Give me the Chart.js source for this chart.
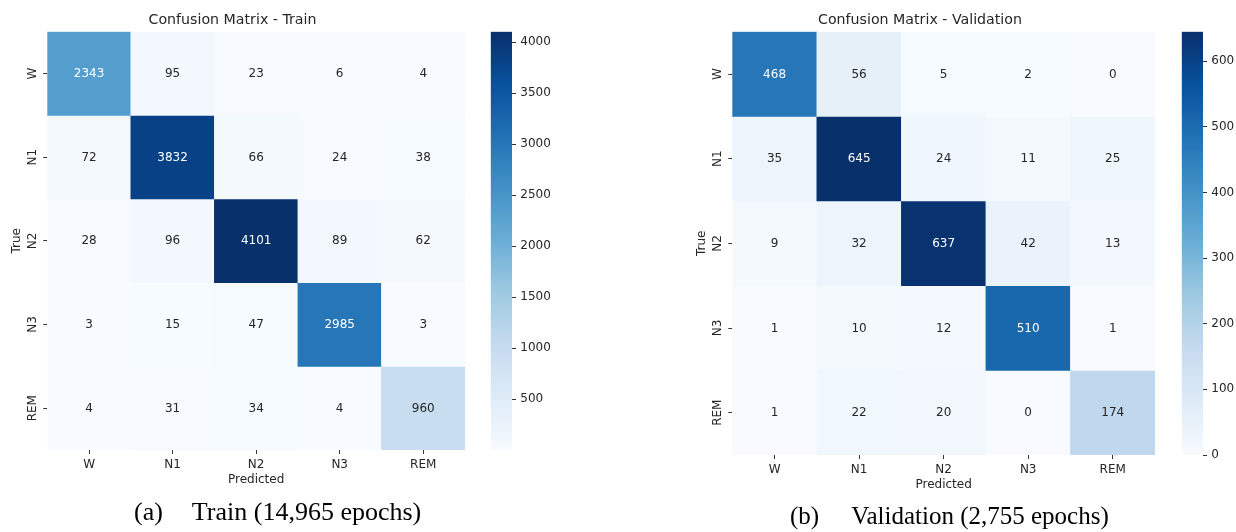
<!DOCTYPE html>
<html>
<head>
<meta charset="utf-8">
<title>Confusion matrices</title>
<script src="https://cdn.jsdelivr.net/npm/chart.js@4.4.1/dist/chart.umd.min.js"></script>
<style>
  html, body { margin: 0; padding: 0; background: #fff; }
  #page { position: relative; width: 1236px; height: 532px; overflow: hidden; background: #fff; }
  .box { position: absolute; }
  .cap { position: absolute; font-family: "Liberation Serif", "Times New Roman", serif;
         color: #000; white-space: pre; line-height: 1; }
</style>
</head>
<body>
<div id="page">
  <div class="box" style="left:0;top:0;width:475px;height:500px"><canvas id="cmTrain"></canvas></div>
  <div class="box" style="left:480px;top:0;width:80px;height:500px"><canvas id="cbTrain"></canvas></div>
  <div class="box" style="left:685px;top:0;width:480px;height:505px"><canvas id="cmVal"></canvas></div>
  <div class="box" style="left:1171px;top:0;width:65px;height:505px"><canvas id="cbVal"></canvas></div>
  <div class="cap" style="left:134px;top:499px;font-size:26px">(a)<span style="margin-left:29px">Train (14,965 epochs)</span></div>
  <div class="cap" style="left:790px;top:503px;font-size:25px">(b)<span style="margin-left:32px">Validation (2,755 epochs)</span></div>
</div>
<script>
// Sleep stage classes (rows = true stage, columns = predicted stage)
const stages = ['W', 'N1', 'N2', 'N3', 'REM'];

// Training set counts, one array per true stage
const trainW   = [2343,   95,   23,    6,   4];
const trainN1  = [  72, 3832,   66,   24,  38];
const trainN2  = [  28,   96, 4101,   89,  62];
const trainN3  = [   3,   15,   47, 2985,   3];
const trainREM = [   4,   31,   34,    4, 960];

// Validation set counts, one array per true stage
const valW   = [468,  56,   5,   2,   0];
const valN1  = [ 35, 645,  24,  11,  25];
const valN2  = [  9,  32, 637,  42,  13];
const valN3  = [  1,  10,  12, 510,   1];
const valREM = [  1,  22,  20,   0, 174];

// Colour bar tick labels
const trainBarTicks = [500, 1000, 1500, 2000, 2500, 3000, 3500, 4000];
const valBarTicks   = [0, 100, 200, 300, 400, 500, 600];

const trainRows = [trainW, trainN1, trainN2, trainN3, trainREM];
const valRows   = [valW, valN1, valN2, valN3, valREM];

const FONT = '"DejaVu Sans", Verdana, sans-serif';
const INK = '#262626';
Chart.defaults.font.family = FONT;
Chart.defaults.color = INK;

// "Blues" sequential palette stops
const blues = ['#f7fbff', '#deebf7', '#c6dbef', '#9ecae1', '#6baed6',
               '#4292c6', '#2171b5', '#08519c', '#08306b'];

function hexRgb(h) {
  return [parseInt(h.slice(1, 3), 16), parseInt(h.slice(3, 5), 16), parseInt(h.slice(5, 7), 16)];
}
const bluesRgb = blues.map(hexRgb);

function bluesAt(t) {
  t = Math.max(0, Math.min(1, t));
  const pos = t * (bluesRgb.length - 1);
  const i = Math.min(Math.floor(pos), bluesRgb.length - 2);
  const f = pos - i;
  return bluesRgb[i].map((c, k) => c + (bluesRgb[i + 1][k] - c) * f);
}

function rgbStr(c) {
  return 'rgb(' + c.map(v => Math.round(v)).join(',') + ')';
}

// Dark text on light cells, white text on dark cells
function luminance(c) {
  const lin = c.map(v => {
    v /= 255;
    return v <= 0.03928 ? v / 12.92 : Math.pow((v + 0.055) / 1.055, 2.4);
  });
  return 0.2126 * lin[0] + 0.7152 * lin[1] + 0.0722 * lin[2];
}

// Writes each count at the centre of its cell
const cellLabels = {
  id: 'cellLabels',
  afterDatasetsDraw(chart, args, opts) {
    const ctx = chart.ctx;
    ctx.save();
    ctx.font = opts.size + 'px ' + FONT;
    ctx.textAlign = 'center';
    ctx.textBaseline = 'middle';
    chart.data.datasets.forEach((ds, di) => {
      const meta = chart.getDatasetMeta(di);
      meta.data.forEach((bar, i) => {
        const rgb = ds.cellRgb[i];
        ctx.fillStyle = luminance(rgb) > 0.408 ? INK : '#ffffff';
        ctx.fillText(String(ds.counts[i]), bar.x, (bar.y + bar.base) / 2 + 0.5);
      });
    });
    ctx.restore();
  }
};

const tickFont = { size: 12 };

function heatmap(canvasId, title, rows, vmin, vmax) {
  const n = stages.length;
  const datasets = rows.map((row, r) => {
    const rgbs = row.map(v => bluesAt((v - vmin) / (vmax - vmin)));
    return {
      label: stages[r],
      data: row.map(() => [n - 1 - r, n - r]),
      counts: row,
      cellRgb: rgbs,
      backgroundColor: rgbs.map(rgbStr),
      borderWidth: 0,
      barPercentage: 1,
      categoryPercentage: 1,
      grouped: false
    };
  });
  return new Chart(document.getElementById(canvasId), {
    type: 'bar',
    data: { labels: stages, datasets },
    options: {
      responsive: true,
      maintainAspectRatio: false,
      animation: false,
      events: [],
      layout: { padding: { left: 0, right: 10, top: 0, bottom: 10 } },
      plugins: {
        legend: { display: false },
        tooltip: { enabled: false },
        title: {
          display: true, text: title, color: INK,
          font: { size: 14.2, weight: 'normal' },
          padding: { top: 11.5, bottom: 3.16 }
        },
        cellLabels: { size: 12 }
      },
      scales: {
        x: {
          type: 'category',
          offset: true,
          grid: { offset: false, drawOnChartArea: false, drawTicks: true, tickLength: 4, color: '#333', lineWidth: 1 },
          border: { display: false },
          ticks: { font: tickFont, color: INK, padding: 3.8, maxRotation: 0, minRotation: 0 },
          title: { display: true, text: 'Predicted', color: INK, font: tickFont, padding: { top: 0, bottom: 2.8 } },
          afterFit(s) { s.height = 40; }
        },
        y: {
          type: 'linear',
          min: 0,
          max: n,
          afterBuildTicks(s) { s.ticks = stages.map((_, i) => ({ value: i + 0.5 })); },
          grid: { drawOnChartArea: false, drawTicks: true, tickLength: 4, color: '#333', lineWidth: 1 },
          border: { display: false },
          ticks: {
            font: tickFont, color: INK, padding: -2.8,
            minRotation: 90, maxRotation: 90, crossAlign: 'center',
            callback(value) { return stages[n - 1 - Math.floor(value)]; }
          },
          title: { display: true, text: 'True', color: INK, font: tickFont, padding: { top: 9.8, bottom: 0 } },
          afterFit(s) { s.width = 47.3; }
        }
      }
    },
    plugins: [cellLabels]
  });
}

function colorbar(canvasId, vmin, vmax, ticks, axisWidth, bottomPad) {
  return new Chart(document.getElementById(canvasId), {
    type: 'bar',
    data: {
      labels: [''],
      datasets: [{
        data: [[vmin, vmax]],
        borderWidth: 0,
        barPercentage: 1,
        categoryPercentage: 1,
        backgroundColor(ctx) {
          const chart = ctx.chart;
          if (!chart.chartArea) return blues[0];
          const y = chart.scales.y;
          const g = chart.ctx.createLinearGradient(0, y.getPixelForValue(vmin), 0, y.getPixelForValue(vmax));
          blues.forEach((c, i) => g.addColorStop(i / (blues.length - 1), c));
          return g;
        }
      }]
    },
    options: {
      responsive: true,
      maintainAspectRatio: false,
      animation: false,
      events: [],
      layout: { padding: { left: 10.7, right: 0, top: 31.7, bottom: bottomPad } },
      plugins: { legend: { display: false }, tooltip: { enabled: false } },
      scales: {
        x: { display: false },
        y: {
          position: 'right',
          min: vmin,
          max: vmax,
          afterBuildTicks(s) { s.ticks = ticks.map(v => ({ value: v })); },
          grid: { drawOnChartArea: false, drawTicks: true, tickLength: 4, color: '#333', lineWidth: 1 },
          border: { display: false },
          ticks: { font: tickFont, color: INK, padding: 4.3, callback(value) { return String(value); } },
          afterFit(s) { s.width = axisWidth; }
        }
      }
    }
  });
}

const trainAll = trainRows.flat();
const valAll = valRows.flat();
const trainMin = Math.min(...trainAll), trainMax = Math.max(...trainAll);
const valMin = Math.min(...valAll), valMax = Math.max(...valAll);

heatmap('cmTrain', 'Confusion Matrix - Train', trainRows, trainMin, trainMax);
colorbar('cbTrain', trainMin, trainMax, trainBarTicks, 48, 50);
heatmap('cmVal', 'Confusion Matrix - Validation', valRows, valMin, valMax);
colorbar('cbVal', valMin, valMax, valBarTicks, 33, 50);
</script>
</body>
</html>
